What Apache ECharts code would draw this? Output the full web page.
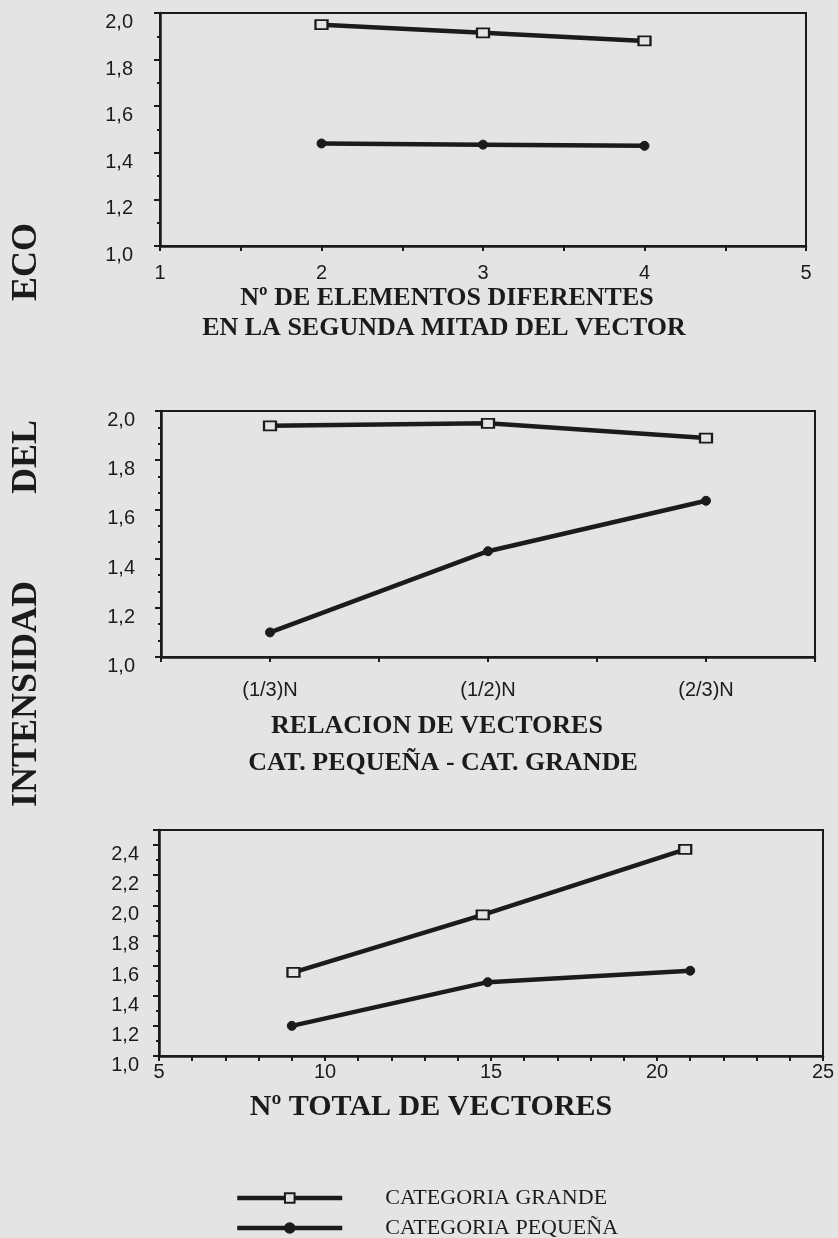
<!DOCTYPE html>
<html>
<head>
<meta charset="utf-8">
<script src="https://cdn.jsdelivr.net/npm/echarts@6/dist/echarts.min.js"></script>
<style>
html,body{margin:0;padding:0;background:#e4e4e4;}
#c{width:838px;height:1238px;}
</style>
</head>
<body>
<div id="c"></div>
<script>
// ---- Data ----
const seriesNames = ['CATEGORIA GRANDE', 'CATEGORIA PEQUEÑA'];

// Chart 1: Nº de elementos diferentes en la segunda mitad del vector
const elementosX = [2, 3, 4];
const elementosGrande = [1.95, 1.915, 1.88];
const elementosPequena = [1.44, 1.435, 1.43];

// Chart 2: relación de vectores cat. pequeña - cat. grande
const relacionCategories = ['(1/3)N', '(1/2)N', '(2/3)N'];
const relacionGrande = [1.94, 1.95, 1.89];
const relacionPequena = [1.10, 1.43, 1.635];

// Chart 3: Nº total de vectores
const totalXGrande = [9.05, 14.75, 20.85];
const totalGrande = [1.555, 1.937, 2.372];
const totalXPequena = [9.0, 14.9, 21.0];
const totalPequena = [1.20, 1.49, 1.566];

// ---- Styles ----
const INK = '#1b1b1b';
const BG = '#e4e4e4';
const labelFont = {fontFamily: 'Liberation Sans', fontSize: 20, color: INK};
const fmt = v => (Math.round(v * 10) / 10).toFixed(1).replace('.', ',');

function xAxisBase(grid, min, max, interval, minorSplit, margin, formatter) {
  return {
    type: 'value', gridIndex: grid, min: min, max: max, interval: interval,
    axisLine: {show: true, lineStyle: {color: INK, width: 2.5}},
    axisTick: {show: true, length: 5, lineStyle: {color: INK, width: 2}},
    minorTick: {show: minorSplit > 0, splitNumber: minorSplit || 2, length: 5, lineStyle: {color: INK, width: 2}},
    splitLine: {show: false}, minorSplitLine: {show: false},
    axisLabel: Object.assign({margin: margin, formatter: formatter}, labelFont)
  };
}
function yAxisBase(grid, min, max, minorSplit, margin, hideMax) {
  return {
    type: 'value', gridIndex: grid, min: min, max: max, interval: 0.2,
    axisLine: {show: true, lineStyle: {color: INK, width: 2.5}},
    axisTick: {show: true, length: 6, lineStyle: {color: INK, width: 2}},
    minorTick: {show: true, splitNumber: minorSplit, length: 3, lineStyle: {color: INK, width: 2}},
    splitLine: {show: false}, minorSplitLine: {show: false},
    axisLabel: Object.assign({margin: margin, formatter: fmt, verticalAlign: 'top', lineHeight: 19, showMaxLabel: !hideMax}, labelFont)
  };
}

function lineSeries(name, xi, yi, xs, ys, grande) {
  return {
    name: name, type: 'line', xAxisIndex: xi, yAxisIndex: yi,
    data: xs.map((x, i) => [x, ys[i]]),
    lineStyle: {color: INK, width: 4.5},
    symbol: grande ? 'rect' : 'circle',
    symbolSize: grande ? [12, 9] : 9,
    itemStyle: grande ? {color: BG, borderColor: INK, borderWidth: 2} : {color: INK, borderColor: INK, borderWidth: 1},
    clip: false, z: 5
  };
}

const relacionX = relacionCategories.map((c, i) => 2 * i + 1);

const titleFont = 'bold 26px "Liberation Serif"';
function centeredText(text, x, y, font) {
  return {type: 'text', x: x, y: y, style: {text: text, font: font, fill: INK, textAlign: 'center', textVerticalAlign: 'middle'}};
}
function verticalText(text, x, y) {
  return {type: 'text', x: x, y: y, rotation: Math.PI / 2, style: {text: text, font: 'bold 36px "Liberation Serif"', fill: INK, textAlign: 'center', textVerticalAlign: 'middle'}};
}

const option = {
  animation: false,
  backgroundColor: BG,
  grid: [
    {left: 160, top: 13, width: 646, height: 233, show: true, borderColor: INK, borderWidth: 2},
    {left: 161, top: 411, width: 654, height: 246, show: true, borderColor: INK, borderWidth: 2},
    {left: 159, top: 830, width: 664, height: 226, show: true, borderColor: INK, borderWidth: 2}
  ],
  xAxis: [
    xAxisBase(0, 1, 5, 1, 2, 17, v => String(v)),
    xAxisBase(1, 0, 6, 1, 0, 23, v => (v % 2 === 1 ? relacionCategories[(v - 1) / 2] : '')),
    xAxisBase(2, 5, 25, 5, 5, 6, v => String(v))
  ],
  yAxis: [
    yAxisBase(0, 1, 2, 2, 27, false),
    yAxisBase(1, 1, 2, 3, 26, false),
    yAxisBase(2, 1, 2.5, 2, 20, true)
  ],
  legend: {
    orient: 'vertical', left: 235, top: 1187, height: 70, padding: 0,
    itemWidth: 105, itemHeight: 12, itemGap: 8,
    data: seriesNames,
    lineStyle: {width: 4.5, color: INK},
    textStyle: {fontFamily: 'Liberation Serif', fontSize: 22, color: INK, lineHeight: 20, padding: [0, 0, 0, 38]}
  },
  graphic: [
    centeredText('Nº DE ELEMENTOS DIFERENTES', 447, 298, titleFont),
    centeredText('EN LA SEGUNDA MITAD DEL VECTOR', 444, 328, titleFont),
    centeredText('RELACION DE VECTORES', 437, 726, titleFont),
    centeredText('CAT. PEQUEÑA - CAT. GRANDE', 443, 763, titleFont),
    centeredText('Nº TOTAL DE VECTORES', 431, 1107, 'bold 30px "Liberation Serif"'),
    verticalText('ECO', 27, 262),
    verticalText('DEL', 27, 457),
    verticalText('INTENSIDAD', 27, 694)
  ],
  series: [
    lineSeries(seriesNames[0], 0, 0, elementosX, elementosGrande, true),
    lineSeries(seriesNames[1], 0, 0, elementosX, elementosPequena, false),
    lineSeries(seriesNames[0], 1, 1, relacionX, relacionGrande, true),
    lineSeries(seriesNames[1], 1, 1, relacionX, relacionPequena, false),
    lineSeries(seriesNames[0], 2, 2, totalXGrande, totalGrande, true),
    lineSeries(seriesNames[1], 2, 2, totalXPequena, totalPequena, false)
  ]
};
const chart = echarts.init(document.getElementById('c'), null, {renderer: 'canvas'});
chart.setOption(option);
</script>
</body>
</html>
